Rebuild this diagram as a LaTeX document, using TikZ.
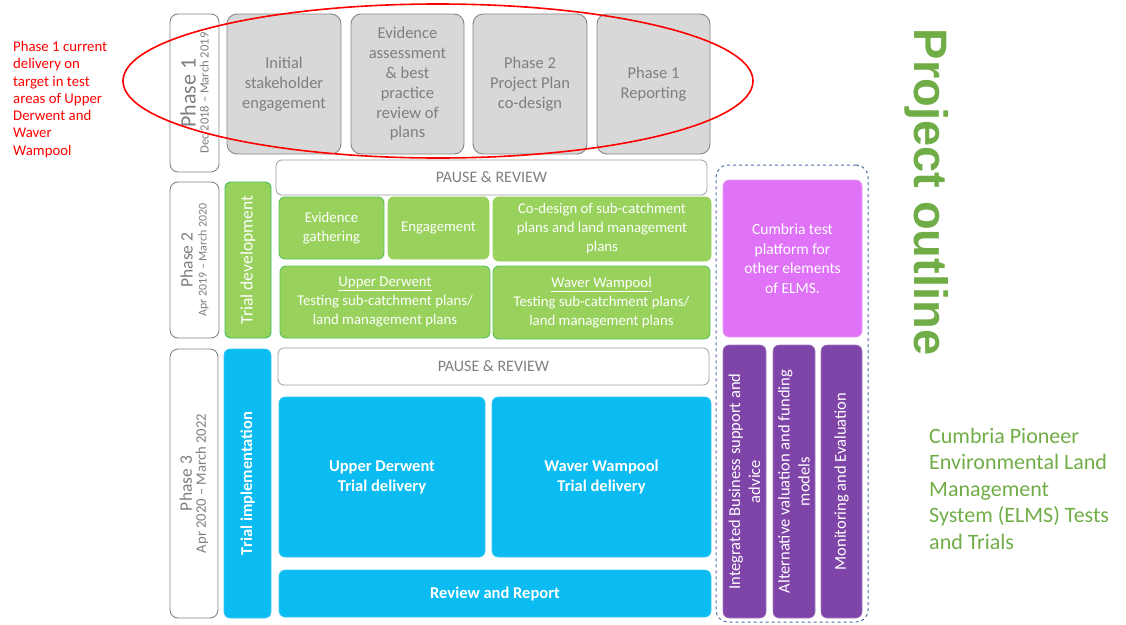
\documentclass[tikz,border=0pt]{standalone}
\usepackage{fontspec}
\setmainfont{Carlito}
\newfontfamily\titlefont{Liberation Sans}

\definecolor{boxgray}{HTML}{D9D8D8}
\definecolor{linegray}{HTML}{858585}
\definecolor{textgray}{HTML}{7F7F7F}
\definecolor{leafgreen}{HTML}{98D15B}
\definecolor{edgegreen}{HTML}{3DBF5A}
\definecolor{skyblue}{HTML}{0ABCF2}
\definecolor{pinkpurple}{HTML}{DF72F7}
\definecolor{deeppurple}{HTML}{7F44A8}
\definecolor{titlegreen}{HTML}{70AD47}
\definecolor{dashblue}{HTML}{4D6FA3}

\tikzset{
  box/.style={rounded corners=6pt, align=center, inner sep=1pt},
  graybox/.style={box, rounded corners=10pt, fill=boxgray, draw=linegray, line width=0.9pt,
    text=textgray, font=\fontsize{16.5}{19.8}\selectfont},
  phasebox/.style={box, rounded corners=8pt, fill=white, draw=linegray, line width=0.9pt,
    text=textgray, rotate=90},
  pausebox/.style={box, fill=white, draw=linegray!80, line width=0.8pt,
    text=textgray, font=\fontsize{16}{19}\selectfont},
  greenbox/.style={box, fill=leafgreen, draw=leafgreen, line width=0.9pt,
    text=white, font=\fontsize{14.8}{19}\selectfont},
  bluebox/.style={box, fill=skyblue, draw=skyblue!80!white, line width=0.6pt,
    text=white, font=\bfseries\fontsize{16.5}{20}\selectfont},
  purplebox/.style={box, fill=deeppurple, draw=deeppurple!70!white, line width=0.6pt,
    text=white, rotate=90, font=\fontsize{16.5}{20}\selectfont},
}

\begin{document}
\begin{tikzpicture}[x=1pt,y=-1pt]
\useasboundingbox (0,0) rectangle (1126,624);

% note on the left
\node[anchor=north west, inner sep=0, align=left, text=red,
  font=\fontsize{14.8}{17.3}\selectfont] (note) at (13,41)
  {Phase 1 current\\delivery on\\target in test\\areas of Upper\\Derwent and\\Waver\\Wampool};

% phase labels
\node[phasebox, minimum width=158pt, minimum height=49pt] (ph1) at (194.5,93)
  {{\fontsize{22}{23}\selectfont Phase 1}\\[1pt]{\fontsize{12.6}{13}\selectfont Dec 2018 -- March 2019}};
\node[phasebox, minimum width=156pt, minimum height=49pt] (ph2) at (194.5,260)
  {{\fontsize{17.5}{19}\selectfont Phase 2}\\[2pt]{\fontsize{11.9}{13}\selectfont Apr 2019 -- March 2020}};
\node[phasebox, minimum width=269pt, minimum height=48pt] (ph3) at (194,483.5)
  {{\fontsize{17.5}{19}\selectfont Phase 3}\\[2pt]{\fontsize{14.6}{16}\selectfont Apr 2020 -- March 2022}};

% phase 1 steps
\node[graybox, minimum width=114pt, minimum height=140pt] (initial) at (284,84)
  {Initial\\stakeholder\\engagement};
\node[graybox, minimum width=113pt, minimum height=140pt] (evidence) at (407.5,84)
  {Evidence\\assessment\\\& best\\practice\\review of\\plans};
\node[graybox, minimum width=114pt, minimum height=140pt] (codesignplan) at (530,84)
  {Phase 2\\Project Plan\\co-design};
\node[graybox, minimum width=113pt, minimum height=140pt] (reporting) at (653.5,84)
  {Phase 1\\Reporting};

% red ring round phase 1
\draw[red, line width=1.6pt] (438,81) ellipse [x radius=315pt, y radius=77pt];

% phase 2
\node[pausebox, minimum width=431pt, minimum height=35pt] (pause1) at (491.5,177.5) {PAUSE \& REVIEW};
\node[greenbox, draw=edgegreen, rotate=90, minimum width=156pt, minimum height=46pt,
  font=\fontsize{17.5}{20}\selectfont] (trialdev) at (248,260) {Trial development};
\node[greenbox, draw=edgegreen!70!leafgreen, minimum width=105pt, minimum height=62pt] (gathering) at (331.5,228)
  {Evidence\\gathering};
\node[greenbox, minimum width=101pt, minimum height=62pt] (engagement) at (438.5,228) {Engagement};
\node[greenbox, minimum width=218pt, minimum height=64pt] (codesign) at (602,229)
  {Co-design of sub-catchment\\plans and land management\\plans};
\node[greenbox, draw=edgegreen!70!leafgreen, minimum width=210pt, minimum height=72pt] (derwenttest) at (385,302)
  {\underline{Upper Derwent}\\Testing sub-catchment plans/\\land management plans};
\node[greenbox, draw=edgegreen!70!leafgreen, minimum width=217pt, minimum height=73pt] (wampooltest) at (601.5,302.5)
  {\underline{Waver Wampool}\\Testing sub-catchment plans/\\land management plans};

% phase 3
\node[pausebox, minimum width=431pt, minimum height=37pt] (pause2) at (493.5,366.5) {PAUSE \& REVIEW};
\node[bluebox, rotate=90, minimum width=269pt, minimum height=47pt] (trialimp) at (247.5,483.5)
  {Trial implementation};
\node[bluebox, minimum width=206pt, minimum height=160pt] (derwenttrial) at (382,477)
  {Upper Derwent\\Trial delivery};
\node[bluebox, minimum width=219pt, minimum height=160pt] (wampooltrial) at (601.5,477)
  {Waver Wampool\\Trial delivery};
\node[bluebox, minimum width=432pt, minimum height=47pt] (report) at (495,593.5)
  {Review and Report};

% other elements of ELMS
\node[draw=dashblue, dashed, line width=1pt, rounded corners=12pt,
  minimum width=152pt, minimum height=457pt] (elms) at (792,393.5) {};
\node[box, fill=pinkpurple, draw=pinkpurple!70!white, line width=0.6pt, text=white,
  font=\fontsize{15.5}{19.5}\selectfont, minimum width=139pt, minimum height=157pt] (platform) at (792.5,258.5)
  {Cumbria test\\platform for\\other elements\\of ELMS.};
\node[purplebox, minimum width=273pt, minimum height=43pt] (business) at (744.5,481.5)
  {Integrated Business support and\\advice};
\node[purplebox, minimum width=273pt, minimum height=42pt] (valuation) at (794,481.5)
  {Alternative valuation and funding\\models};
\node[purplebox, minimum width=273pt, minimum height=41pt] (monitoring) at (841.5,481.5)
  {Monitoring and Evaluation};

% titles
\node[rotate=-90, text=titlegreen, font=\titlefont\bfseries\fontsize{47}{50}\selectfont] (title) at (927,192)
  {Project outline};
\node[anchor=north west, inner sep=0, align=left, text=titlegreen,
  font=\fontsize{22}{26.5}\selectfont] (subtitle) at (929,428)
  {Cumbria Pioneer\\Environmental Land\\Management\\System (ELMS) Tests\\and Trials};

\end{tikzpicture}
\end{document}
